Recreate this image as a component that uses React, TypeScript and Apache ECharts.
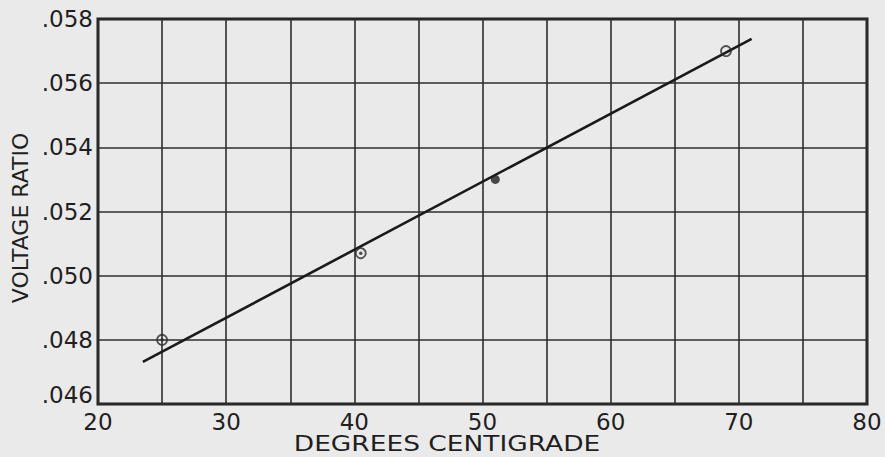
import React, { useEffect, useRef } from "react";
import * as echarts from "echarts";

// X axis (degrees centigrade)
const xMin = 20;
const xMax = 80;
const xStep = 5;
// Y axis (voltage ratio)
const yMin = 0.046;
const yMax = 0.058;
const yStep = 0.002;

// Measured points
const ringTemps = [25, 40.5, 69];
const ringRatios = [0.048, 0.0507, 0.057];
const dotTemps = [25, 40.5];
const dotRatios = [0.048, 0.0507];
const solidTemps = [51];
const solidRatios = [0.053];

// Fitted straight line (end points)
const fitTemps = [23.5, 71];
const fitRatios = [0.04731, 0.05738];

const xTitle = "DEGREES CENTIGRADE";
const yTitle = "VOLTAGE RATIO";

const ink = "#1f1f1f";
const paper = "#eaeaea";
const font = "DejaVu Sans";

const zip = (a: number[], b: number[]) => a.map((v, i) => [v, b[i]]);

export default function App() {
  const ref = useRef<HTMLDivElement>(null);
  useEffect(() => {
    document.body.style.margin = "0";
    const chart = echarts.init(ref.current!, null, { renderer: "svg" });
    chart.setOption({
      animation: false,
      backgroundColor: paper,
      grid: {
        left: 98,
        right: 18,
        top: 19,
        bottom: 53,
        show: true,
        borderColor: ink,
        borderWidth: 3,
        backgroundColor: "transparent",
      },
      xAxis: {
        type: "value",
        min: xMin,
        max: xMax,
        interval: xStep,
        axisLine: { show: false },
        axisTick: { show: false },
        splitLine: { show: true, lineStyle: { color: "#2e2e2e", width: 1.6 } },
        axisLabel: {
          margin: 6,
          fontFamily: font,
          fontSize: 23,
          color: ink,
          showMinLabel: true,
          showMaxLabel: true,
          formatter: (v: number) => (Math.round(v) % 10 === 0 ? String(Math.round(v)) : ""),
        },
      },
      yAxis: {
        type: "value",
        min: yMin,
        max: yMax,
        interval: yStep,
        axisLine: { show: false },
        axisTick: { show: false },
        splitLine: { show: true, lineStyle: { color: "#2e2e2e", width: 1.6 } },
        axisLabel: {
          margin: 5,
          fontFamily: font,
          fontSize: 23,
          color: ink,
          showMinLabel: true,
          showMaxLabel: true,
          formatter: (v: number) => {
            const t = v.toFixed(3).slice(1);
            return Math.abs(v - yMin) < 1e-9 ? `{lo|${t}}` : t;
          },
          rich: {
            lo: {
              fontFamily: font,
              fontSize: 23,
              color: ink,
              padding: [0, 0, 18, 0],
            },
          },
        },
      },
      graphic: [
        {
          type: "text",
          x: 447,
          y: 444,
          scaleX: 1.26,
          style: {
            text: xTitle,
            fill: ink,
            font: `21px "${font}"`,
            textAlign: "center",
            textVerticalAlign: "middle",
          },
        },
        {
          type: "text",
          x: 20,
          y: 218,
          rotation: Math.PI / 2,
          style: {
            text: yTitle,
            fill: ink,
            font: `22px "${font}"`,
            textAlign: "center",
            textVerticalAlign: "middle",
          },
        },
      ],
      series: [
        {
          name: "fit",
          type: "line",
          data: zip(fitTemps, fitRatios),
          symbol: "none",
          lineStyle: { color: "#1a1a1a", width: 2.6 },
          z: 3,
        },
        {
          name: "rings",
          type: "scatter",
          data: zip(ringTemps, ringRatios),
          symbol: "circle",
          symbolSize: 10,
          itemStyle: { color: "rgba(0,0,0,0)", borderColor: "#2a2a2a", borderWidth: 1.8 },
          z: 4,
        },
        {
          name: "dots",
          type: "scatter",
          data: zip(dotTemps, dotRatios),
          symbol: "circle",
          symbolSize: 3.5,
          itemStyle: { color: "#2a2a2a" },
          z: 5,
        },
        {
          name: "solid",
          type: "scatter",
          data: zip(solidTemps, solidRatios),
          symbol: "circle",
          symbolSize: 9,
          itemStyle: { color: "#1e1e1e" },
          z: 5,
        },
      ],
    });
    return () => chart.dispose();
  }, []);
  return (
    <div
      ref={ref}
      style={{ position: "fixed", left: 0, top: 0, width: 885, height: 457 }}
    />
  );
}
